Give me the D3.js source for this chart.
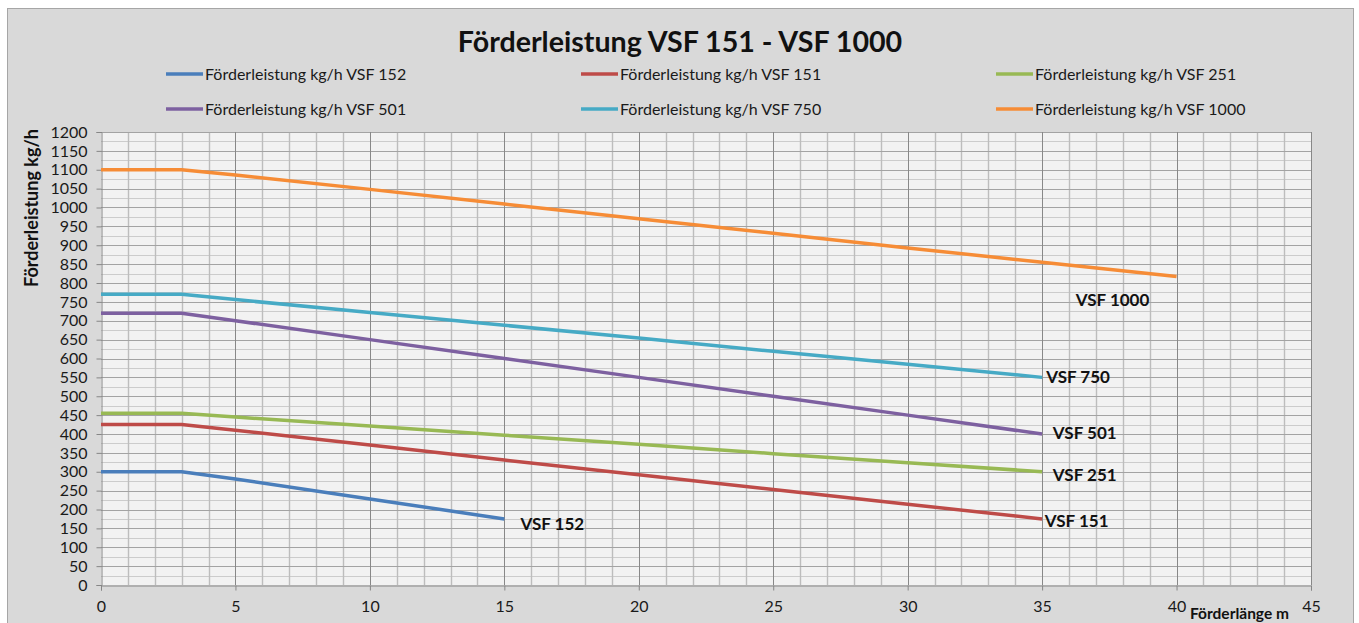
<!DOCTYPE html>
<html>
<head>
<meta charset="utf-8">
<script src="https://cdn.jsdelivr.net/npm/d3@7"></script>
<style>
  html, body { margin: 0; padding: 0; background: #fff; }
  svg { display: block; font-family: Lato, "Open Sans", sans-serif; }
</style>
</head>
<body>
<svg id="chart" width="1359" height="623"></svg>
<script>
// distances in m
const lengths = [0, 3, 5, 10, 15, 20, 25, 30, 35, 40];

// throughput in kg/h
const vsf152 = [300, 300, 281, 228, 175];
const vsf151 = [425, 425, 410, 371, 331, 292, 253, 214, 175];
const vsf251 = [455, 455, 445, 421, 397, 373, 348, 324, 300];
const vsf501 = [720, 720, 700, 650, 600, 550, 500, 450, 400];
const vsf750 = [770, 770, 756, 722, 688, 654, 619, 585, 550];
const vsf1000 = [1100, 1100, 1086, 1048, 1009, 970, 932, 893, 855, 817];

const seriesNames = [
  'Förderleistung kg/h VSF 152', 'Förderleistung kg/h VSF 151', 'Förderleistung kg/h VSF 251',
  'Förderleistung kg/h VSF 501', 'Förderleistung kg/h VSF 750', 'Förderleistung kg/h VSF 1000'
];
const seriesValues = [vsf152, vsf151, vsf251, vsf501, vsf750, vsf1000];
const seriesColors = ['#4a7ebb', '#be4b48', '#98b954', '#7d60a0', '#46aac5', '#f68c36'];

// end labels placed in data units [m, kg/h]
const endLabels = ['VSF 152', 'VSF 151', 'VSF 251', 'VSF 501', 'VSF 750', 'VSF 1000'];
const endLabelPos = [[15.6, 162], [35.1, 170], [35.4, 292], [35.4, 403], [35.15, 551], [36.25, 755]];

const xTicks = [0, 5, 10, 15, 20, 25, 30, 35, 40, 45];
const yTicks = d3.range(0, 1201, 50);

const svg = d3.select('#chart');

// chart area
svg.append('rect')
  .attr('x', 7.5).attr('y', 8.5)
  .attr('width', 1346).attr('height', 640)
  .attr('fill', '#d9d9d9')
  .attr('stroke', '#a6a6a6');

const x = d3.scaleLinear().domain([0, 45]).range([101, 1311]);
const y = d3.scaleLinear().domain([0, 1200]).range([585, 132]);

// plot area
svg.append('rect')
  .attr('x', x(0)).attr('y', y(1200))
  .attr('width', x(45) - x(0)).attr('height', y(0) - y(1200))
  .attr('fill', '#f2f2f2');

const grid = svg.append('g');

// minor gridlines
grid.selectAll('.hminor')
  .data(d3.range(25, 1200, 50))
  .join('line')
  .attr('x1', x(0)).attr('x2', x(45))
  .attr('y1', d => Math.round(y(d)) + 0.5).attr('y2', d => Math.round(y(d)) + 0.5)
  .attr('stroke', '#cccccc');

grid.selectAll('.vminor')
  .data(d3.range(1, 45).filter(d => d % 5 !== 0))
  .join('line')
  .attr('x1', d => Math.round(x(d)) + 0.5).attr('x2', d => Math.round(x(d)) + 0.5)
  .attr('y1', y(1200)).attr('y2', y(0))
  .attr('stroke', '#bdbdbd')
  .attr('stroke-width', 1.4);

// major gridlines
grid.selectAll('.hmajor')
  .data(yTicks.filter(d => d > 0))
  .join('line')
  .attr('x1', x(0)).attr('x2', x(45))
  .attr('y1', d => Math.round(y(d)) + 0.5).attr('y2', d => Math.round(y(d)) + 0.5)
  .attr('stroke', '#a3a3a3')
  .attr('stroke-width', 1.2);

grid.selectAll('.vmajor')
  .data(xTicks.filter(d => d > 0))
  .join('line')
  .attr('x1', d => Math.round(x(d)) + 0.5).attr('x2', d => Math.round(x(d)) + 0.5)
  .attr('y1', y(1200)).attr('y2', y(0))
  .attr('stroke', '#888888');

// axes
const yAxis = svg.append('g')
  .attr('transform', `translate(${Math.round(x(0)) + 0.5},0)`)
  .call(d3.axisLeft(y).tickValues(yTicks).tickFormat(d3.format('d')).tickSize(5).tickPadding(9));

const xAxis = svg.append('g')
  .attr('transform', `translate(0,${Math.round(y(0)) + 0.5})`)
  .call(d3.axisBottom(x).tickValues(xTicks).tickFormat(d3.format('d')).tickSize(5).tickPadding(10));

[yAxis, xAxis].forEach(ax => {
  ax.select('.domain').attr('stroke', '#868686');
  ax.selectAll('.tick line').attr('stroke', '#868686');
  ax.selectAll('.tick text')
    .attr('fill', '#1a1a1a')
    .style('font-size', '16px')
    .style('font-family', 'Lato, sans-serif');
});

// series
const line = d3.line()
  .x((d, i) => x(lengths[i]))
  .y(d => y(d));

svg.append('g')
  .selectAll('path')
  .data(seriesValues)
  .join('path')
  .attr('d', d => line(d))
  .attr('fill', 'none')
  .attr('stroke', (d, i) => seriesColors[i])
  .attr('stroke-width', 3.5)
  .attr('stroke-linejoin', 'round');

svg.append('g')
  .selectAll('text')
  .data(endLabels)
  .join('text')
  .attr('x', (d, i) => x(endLabelPos[i][0]))
  .attr('y', (d, i) => y(endLabelPos[i][1]))
  .attr('dy', '0.35em')
  .attr('font-size', 17)
  .attr('font-weight', 'bold')
  .attr('fill', '#111')
  .text(d => d);

// title
svg.append('text')
  .attr('x', 680).attr('y', 52)
  .attr('text-anchor', 'middle')
  .attr('font-size', 28.6)
  .attr('font-weight', 'bold')
  .attr('fill', '#111')
  .text('Förderleistung VSF 151 - VSF 1000');

// legend, 3 columns x 2 rows, Excel order
const legend = svg.append('g')
  .selectAll('g')
  .data(seriesNames)
  .join('g')
  .attr('transform', (d, i) => `translate(${166 + (i % 3) * 415},${i < 3 ? 74 : 109})`);

legend.append('line')
  .attr('x1', 0).attr('x2', 37)
  .attr('stroke', (d, i) => seriesColors[i])
  .attr('stroke-width', 3.5);

legend.append('text')
  .attr('x', 39)
  .attr('dy', '0.35em')
  .attr('font-size', 16)
  .attr('fill', '#1a1a1a')
  .text(d => d);

// axis titles
svg.append('text')
  .attr('transform', 'translate(38,208) rotate(-90)')
  .attr('text-anchor', 'middle')
  .attr('font-size', 18)
  .attr('font-weight', 'bold')
  .attr('fill', '#111')
  .text('Förderleistung kg/h');

svg.append('text')
  .attr('x', 1190).attr('y', 619)
  .attr('font-size', 15.5)
  .attr('font-weight', 'bold')
  .attr('fill', '#111')
  .text('Förderlänge m');
</script>
</body>
</html>
